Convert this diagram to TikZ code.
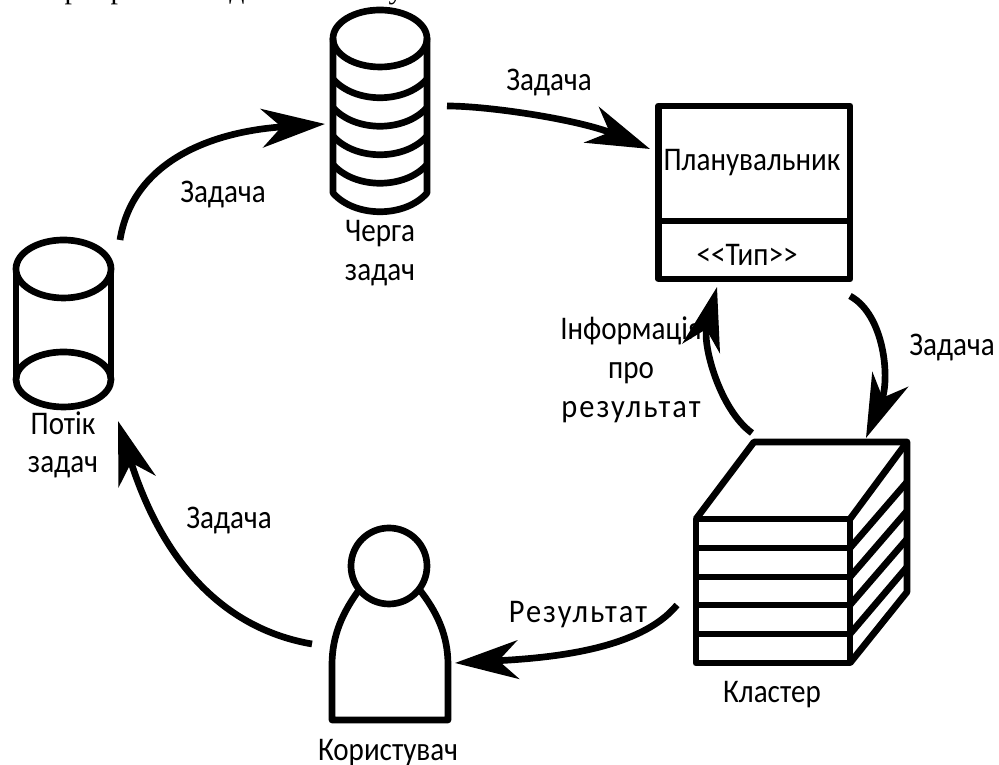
\documentclass[tikz,border=0pt]{standalone}
\usepackage{fontspec}
\setmainfont[FakeStretch=0.88]{Carlito}
\newfontfamily\wideword[FakeStretch=0.92,LetterSpace=6]{Carlito}
\newfontfamily\captionfont{Liberation Serif}
\usetikzlibrary{arrows.meta}
\tikzset{
	icon/.style={line width=1.9pt, line join=round},
	flow/.style={line width=1.9pt, -{Stealth[length=18pt,width=11pt,inset=5.6pt]}},
	label/.style={inner sep=0pt, yshift=-0.8pt, align=center, font=\fontsize{9.4}{11}\selectfont},
	cutoff/.style={inner sep=0pt, anchor=base, font=\captionfont\fontsize{8.5}{10}\selectfont}
}
\begin{document}
\begin{tikzpicture}[x=0.01cm,y=-0.01cm]
	\useasboundingbox (0,0) rectangle (999,765);

	% line of text cut off at the top edge
	\begin{scope}
		\clip (0,0) rectangle (999,6);
		\node[cutoff] (cutp) at (72,-1) {р};
		\node[cutoff] (cutr) at (118,-1) {р};
		\node[cutoff] (cutd) at (237,-1) {д};
		\node[cutoff] (cuty) at (396,-1) {у};
	\end{scope}

	% stream
	\draw[icon] (16,269) -- (16,380);
	\draw[icon] (111,269) -- (111,380);
	\draw[icon] (63.5,269) ellipse [x radius=47.5, y radius=29];
	\draw[icon] (63.5,379.5) ellipse [x radius=47.5, y radius=27.5];

	% queue
	\draw[icon] (333,38.5) -- (333,193) .. controls (355,218) and (405,218) .. (427,193) -- (427,38.5);
	\draw[icon] (380,38.5) ellipse [x radius=47, y radius=28.5];
	\foreach \y in {98,126.5,155,183.5}{
		\draw[icon] (333,\y-19) .. controls (355,\y+6) and (405,\y+6) .. (427,\y-19);
	}

	% scheduler
	\draw[icon] (658.5,106) rectangle (850,279);
	\draw[icon] (658.5,221) -- (850,221);

	% cluster
	\draw[icon] (696,519) rectangle (850,663);
	\foreach \y in {548,577,605,634}{
		\draw[icon] (696,\y) -- (850,\y);
	}
	\draw[icon] (696,519) -- (754,442) -- (907,442) -- (907,592) -- (850,663);
	\draw[icon] (850,519) -- (907,442);
	\foreach \y/\e in {548/482,577/511,605/539,634/567}{
		\draw[icon] (850,\y) -- (907,\e);
	}

	% user
	\draw[icon] (359,590) .. controls (343,612) and (332,635) .. (332,665) -- (332,720) -- (448,720) -- (448,665) .. controls (448,635) and (437,612) .. (419,589);
	\draw[icon] (389,566) circle [radius=38];

	% labels
	\node[label] (streamlabel) at (63,442) {Потік\\задач};
	\node[label] (queuelabel) at (380,250) {Черга\\задач};
	\node[label] (schedlabel) at (752,160) {Планувальник};
	\node[label] (typelabel) at (747,252) {<{}<Тип>{}>};
	\node[label] (clusterlabel) at (772,692) {Кластер};
	\node[label] (userlabel) at (388,750) {Користувач};
	\node[label] (taskone) at (223,192) {Задача};
	\node[label] (tasktwo) at (549,80) {Задача};
	\node[label] (taskthree) at (952,345) {Задача};
	\node[label] (taskfour) at (229,518) {Задача};
	\node[label] (resultlabel) at (578,612) {\wideword Результат};
	\node[label] (infolabel) at (631,367) {Інформація\\про\\{\wideword результат}};

	% arrow ends
	\coordinate (streamout) at (120,240);
	\coordinate (queuein) at (325,124);
	\coordinate (queueout) at (447,106);
	\coordinate (schedin) at (650,149);
	\coordinate (schedout) at (850,296);
	\coordinate (clusterin) at (866,438);
	\coordinate (clusterback) at (752,433);
	\coordinate (schedback) at (717,287);
	\coordinate (clusterout) at (677,605);
	\coordinate (userin) at (455,663);
	\coordinate (userout) at (312,644);
	\coordinate (streamin) at (118,421);

	\draw[flow] (streamout) .. controls (132,165) and (205,132) .. (queuein);
	\draw[flow] (queueout) .. controls (490,106) and (580,120) .. (schedin);
	\draw[flow] (schedout) .. controls (885,315) and (890,380) .. (clusterin);
	\draw[flow] (clusterback) .. controls (720,410) and (702,345) .. (schedback);
	\draw[flow] (clusterout) .. controls (640,650) and (550,658) .. (userin);
	\draw[flow] (userout) .. controls (230,630) and (165,570) .. (streamin);
\end{tikzpicture}
\end{document}
